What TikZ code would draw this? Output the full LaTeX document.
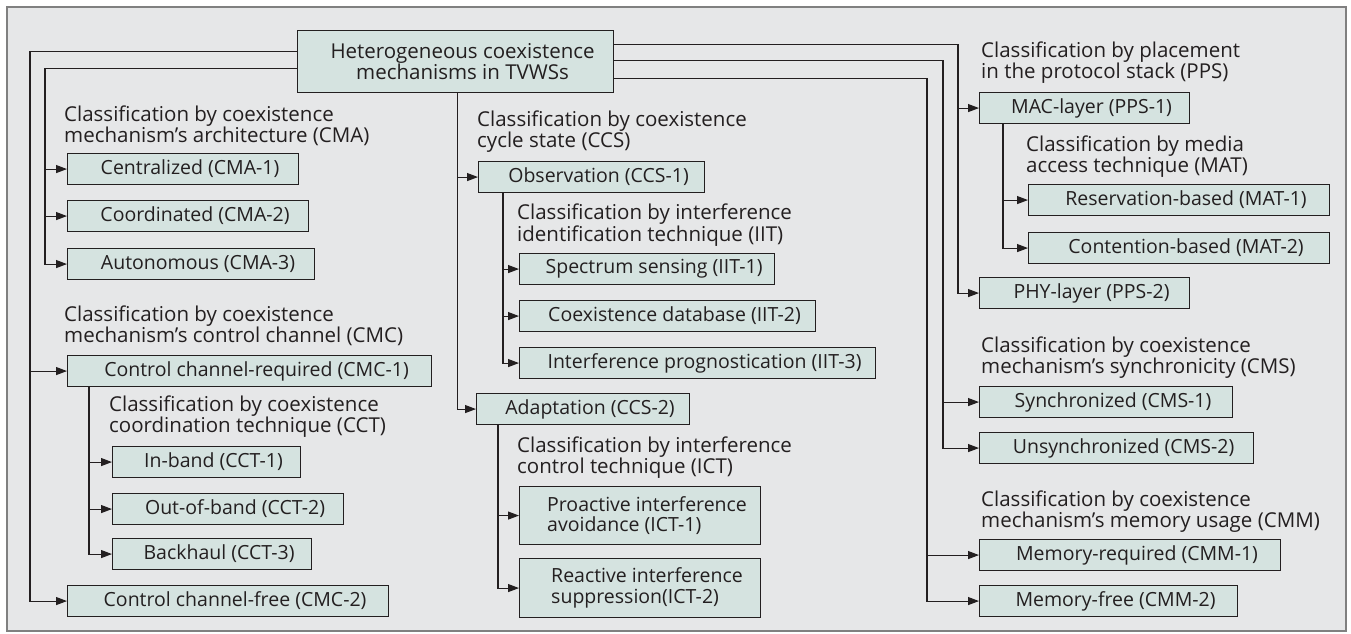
\documentclass[tikz,border=0pt]{standalone}
\usepackage{fontspec}
\setmainfont{Open Sans}
\usetikzlibrary{arrows.meta}
\setlength\parindent{0pt}
\definecolor{bgfill}{HTML}{E6E7E8}
\definecolor{framecol}{HTML}{808080}
\definecolor{boxfill}{HTML}{D5E3E0}
\definecolor{ink}{HTML}{231F20}
\tikzset{
  box/.style={draw=ink, fill=boxfill, line width=1.1pt, inner xsep=0pt, inner ysep=0pt,
    anchor=north west, align=left, minimum height=31pt, text=ink,
    font=\fontsize{19.5}{20.5}\selectfont},
  lab/.style={anchor=north west, inner sep=0pt, align=left, text=ink,
    font=\fontsize{20.5}{20.5}\selectfont},
  conn/.style={draw=ink, line width=1.1pt},
  arr/.style={conn, -{Triangle[length=11pt,width=8pt]}},
}
\newcommand\bx[5]{\node[box, minimum width=#4pt] (#1) at (#2,#3) {\hspace*{14pt}#5};}
\begin{document}
\begin{tikzpicture}[x=1pt,y=-1pt]
\useasboundingbox (0,0) rectangle (1351,633);
\draw[draw=framecol, fill=bgfill, line width=2pt] (7,7) rectangle (1346,631);

% root
\node[box, minimum width=316pt, minimum height=62pt, align=center,
      font=\fontsize{20.5}{20.5}\selectfont] (root) at (297,30)
  {\hspace*{14pt}Heterogeneous coexistence\\\hspace*{14pt}mechanisms in TVWSs};

% left column
\node[lab] (labCMA) at (64,106) {Classification by coexistence\\mechanism’s architecture (CMA)};
\bx{cma1}{67}{153}{231}{Centralized (CMA-1)}
\bx{cma2}{67}{200}{241}{Coordinated (CMA-2)}
\bx{cma3}{67}{248}{247}{Autonomous (CMA-3)}
\node[lab] (labCMC) at (64,306) {Classification by coexistence\\mechanism’s control channel (CMC)};
\bx{cmc1}{67}{355}{364}{Control channel-required (CMC-1)}
\node[lab] (labCCT) at (109,396) {Classification by coexistence\\coordination technique (CCT)};
\bx{cct1}{112}{446}{188}{In-band (CCT-1)}
\bx{cct2}{112}{493}{231}{Out-of-band (CCT-2)}
\bx{cct3}{112}{538}{199}{Backhaul (CCT-3)}
\bx{cmc2}{67}{585}{321}{Control channel-free (CMC-2)}

% middle column
\node[lab] (labCCS) at (477,111) {Classification by coexistence\\cycle state (CCS)};
\bx{ccs1}{478}{161}{226}{Observation (CCS-1)}
\node[lab] (labIIT) at (517,204) {Classification by interference\\identification technique (IIT)};
\bx{iit1}{519}{253}{255}{Spectrum sensing (IIT-1)}
\bx{iit2}{519}{300}{296}{Coexistence database (IIT-2)}
\bx{iit3}{519}{347}{356}{Interference prognostication (IIT-3)}
\bx{ccs2}{476}{393}{213}{Adaptation (CCS-2)}
\node[lab] (labICT) at (517,437) {Classification by interference\\control technique (ICT)};
\node[box, minimum width=241pt, minimum height=58pt] (ict1) at (519,486)
  {\hspace*{14pt}Proactive interference\\\hspace*{14pt}avoidance (ICT-1)};
\node[box, minimum width=241pt, minimum height=59pt] (ict2) at (519,558)
  {\hspace*{14pt}Reactive interference\\\hspace*{14pt}suppression(ICT-2)};

% right column
\node[lab] (labPPS) at (981,42) {Classification by placement\\in the protocol stack (PPS)};
\bx{pps1}{979}{92}{210}{MAC-layer (PPS-1)}
\node[lab] (labMAT) at (1026,136) {Classification by media\\access technique (MAT)};
\bx{mat1}{1028}{184}{301}{Reservation-based (MAT-1)}
\bx{mat2}{1028}{232}{301}{Contention-based (MAT-2)}
\bx{pps2}{979}{277}{210}{PHY-layer (PPS-2)}
\node[lab] (labCMS) at (981,337) {Classification by coexistence\\mechanism’s synchronicity (CMS)};
\bx{cms1}{979}{386}{253}{Synchronized (CMS-1)}
\bx{cms2}{979}{432}{274}{Unsynchronized (CMS-2)}
\node[lab] (labCMM) at (981,491) {Classification by coexistence\\mechanism’s memory usage (CMM)};
\bx{cmm1}{979}{539}{301}{Memory-required (CMM-1)}
\bx{cmm2}{979}{585}{258}{Memory-free (CMM-2)}

% connector coordinates
\coordinate (L1) at (30,0);
\coordinate (L2) at (45,0);
\coordinate (M) at ([xshift=2pt]root.south);
\coordinate (C) at ([xshift=22pt]cmc1.south west);
\coordinate (O) at ([xshift=25pt]ccs1.south west);
\coordinate (A) at ([xshift=22pt]ccs2.south west);
\coordinate (P) at ([xshift=24pt]pps1.south west);
\coordinate (R1) at (958,0);
\coordinate (R2) at (943,0);
\coordinate (R3) at (927,0);

% left connectors
\draw[arr] ([yshift=10pt]root.west) -| (L1 |- cmc2.west) -- (cmc2.west);
\draw[arr] (L1 |- cmc1.west) -- (cmc1.west);
\draw[arr] ([yshift=-7pt]root.west) -| (L2 |- cma3.west) -- (cma3.west);
\draw[arr] (L2 |- cma1.west) -- (cma1.west);
\draw[arr] (L2 |- cma2.west) -- (cma2.west);
\draw[arr] (C) |- (cct3.west);
\draw[arr] (C |- cct1.west) -- (cct1.west);
\draw[arr] (C |- cct2.west) -- (cct2.west);

% middle connectors
\draw[arr] (M) |- (ccs2.west);
\draw[arr] (M |- ccs1.west) -- (ccs1.west);
\draw[arr] (O) |- (iit3.west);
\draw[arr] (O |- iit1.west) -- (iit1.west);
\draw[arr] (O |- iit2.west) -- (iit2.west);
\draw[arr] (A) |- (ict2.west);
\draw[arr] (A |- ict1.west) -- (ict1.west);

% right connectors
\draw[arr] ([yshift=17pt]root.east) -| (R1 |- pps2.west) -- (pps2.west);
\draw[arr] (R1 |- pps1.west) -- (pps1.west);
\draw[arr] ([yshift=1pt]root.east) -| (R2 |- cms2.west) -- (cms2.west);
\draw[arr] (R2 |- cms1.west) -- (cms1.west);
\draw[arr] ([yshift=-17pt]root.east) -| (R3 |- cmm2.west) -- (cmm2.west);
\draw[arr] (R3 |- cmm1.west) -- (cmm1.west);
\draw[arr] (P) |- (mat2.west);
\draw[arr] (P |- mat1.west) -- (mat1.west);
\end{tikzpicture}
\end{document}
